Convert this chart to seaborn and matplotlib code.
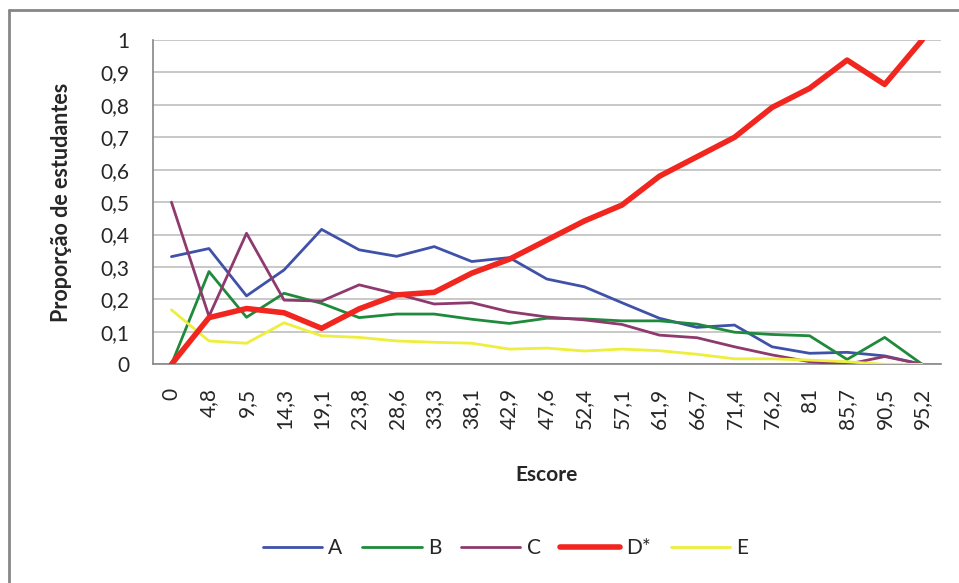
import numpy as np
import pandas as pd
import matplotlib.pyplot as plt
import seaborn as sns
from matplotlib.lines import Line2D

# score categories (x axis)
escores = ["0", "4,8", "9,5", "14,3", "19,1", "23,8", "28,6", "33,3", "38,1", "42,9", "47,6",
           "52,4", "57,1", "61,9", "66,7", "71,4", "76,2", "81", "85,7", "90,5", "95,2"]

# proportion of students choosing each alternative
serie_a = [0.332, 0.357, 0.211, 0.291, 0.416, 0.353, 0.333, 0.363, 0.317, 0.329, 0.263,
           0.239, 0.190, 0.142, 0.114, 0.121, 0.054, 0.034, 0.037, 0.026, 0.0]
serie_b = [0.0, 0.286, 0.145, 0.219, 0.188, 0.144, 0.155, 0.155, 0.139, 0.126, 0.142,
           0.140, 0.134, 0.134, 0.124, 0.099, 0.092, 0.088, 0.015, 0.083, 0.0]
serie_c = [0.500, 0.148, 0.404, 0.198, 0.195, 0.245, 0.217, 0.186, 0.190, 0.162, 0.146,
           0.137, 0.123, 0.090, 0.082, 0.054, 0.029, 0.008, 0.0, 0.024, 0.0]
serie_d = [0.0, 0.144, 0.172, 0.159, 0.111, 0.171, 0.214, 0.222, 0.281, 0.324, 0.383,
           0.442, 0.491, 0.580, 0.640, 0.700, 0.792, 0.851, 0.938, 0.863, 1.0]
serie_e = [0.168, 0.072, 0.065, 0.128, 0.088, 0.083, 0.072, 0.068, 0.065, 0.047, 0.050,
           0.041, 0.047, 0.042, 0.031, 0.017, 0.017, 0.013, 0.008, 0.0, 0.0]
nomes = ["A", "B", "C", "D*", "E"]

cores = {"A": "#3f51a8", "B": "#1f8a3b", "C": "#8e3a6e", "D*": "#f0261f", "E": "#eeee3c"}
larguras = {"A": 2.0, "B": 2.0, "C": 2.0, "D*": 4.0, "E": 2.0}

pos = np.arange(len(escores))
frames = []
for nome, vals in zip(nomes, [serie_a, serie_b, serie_c, serie_d, serie_e]):
    frames.append(pd.DataFrame({"pos": pos, "prop": vals, "alt": nome}))
df = pd.concat(frames, ignore_index=True)

sns.set_style("white")
plt.rcParams['font.family'] = ['Lato', 'DejaVu Sans']

fig = plt.figure(figsize=(9.59, 5.83), dpi=100)
ax = fig.add_axes([0.1592, 0.3751, 0.822, 0.5563])

sns.lineplot(data=df, x="pos", y="prop", hue="alt", size="alt", sizes=larguras,
             palette=cores, hue_order=nomes, size_order=nomes, ax=ax, legend=False,
             zorder=3)
# red line on top
for ln in ax.lines:
    if abs(ln.get_linewidth() - 4.0) < 0.01:
        ln.set_zorder(4)

ax.set_xlim(-0.5, len(escores) - 0.5)
ax.set_ylim(0, 1)
ax.set_yticks(np.arange(0, 1.01, 0.1))
ax.set_yticklabels(["0"] + [f"0,{i}" for i in range(1, 10)] + ["1"], fontsize=15)
ax.set_xticks(pos)
ax.set_xticklabels(escores, rotation=90, fontsize=15)
ax.set_xticks(np.arange(-0.5, len(escores), 1), minor=True)
ax.tick_params(axis='x', which='major', length=0, pad=17)
ax.tick_params(axis='x', which='minor', length=7, width=1, color='#868686', direction='out')
ax.tick_params(axis='y', which='major', length=7, width=1, color='#868686', direction='out', pad=10)
ax.yaxis.grid(True, color='#c4c4c4', linewidth=1.3)
ax.xaxis.grid(False)
ax.set_axisbelow(True)
for s in ['top', 'right']:
    ax.spines[s].set_visible(False)
for s in ['left', 'bottom']:
    ax.spines[s].set_color('#868686')
    ax.spines[s].set_linewidth(1.2)

ax.set_xlabel("Escore", fontsize=15, fontweight='bold', labelpad=26)
ax.set_ylabel("Proporção de estudantes", fontsize=15.5, fontweight='bold', labelpad=20)

handles = [Line2D([0], [0], color=cores[n], lw=larguras[n]) for n in nomes]
fig.legend(handles, nomes, loc='center', bbox_to_anchor=(0.527, 0.06), ncol=5,
           frameon=False, fontsize=15, handlelength=2.85, columnspacing=0.95, handletextpad=0.3)

# chart area border (left and top visible)
fig.add_artist(plt.Line2D([0.0089, 0.0089], [0, 0.983], color='#868686', lw=2, transform=fig.transFigure))
fig.add_artist(plt.Line2D([0.0089, 1.0], [0.983, 0.983], color='#868686', lw=2, transform=fig.transFigure))

fig.savefig("out.png", dpi=100)
plt.close('all')
